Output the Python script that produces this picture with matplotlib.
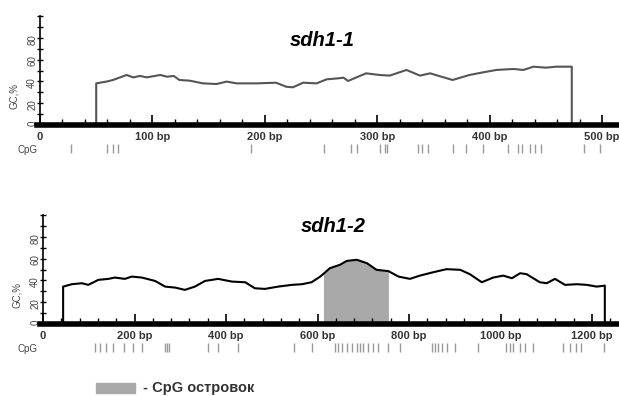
import numpy as np
import matplotlib.pyplot as plt
from matplotlib.ticker import MultipleLocator

plt.rcParams['font.family'] = ['Liberation Sans', 'DejaVu Sans']

# sdh1-1: GC profile (position, bp / GC, %)
bp1 = [50, 50, 59, 65, 77, 83, 89, 95, 107, 113, 119, 124, 133, 145, 157, 166, 175,
       193, 210, 219, 225, 234, 246, 255, 265, 270, 274, 290, 302, 311, 326, 338, 347,
       367, 382, 394, 406, 421, 430, 439, 450, 459, 473, 473]
gc1 = [0, 38.2, 39.8, 41.3, 45.9, 43.7, 45, 43.7, 45.9, 44.3, 45, 41.3, 40.7, 38.2, 37.6,
       39.8, 38.2, 38.2, 38.8, 35.1, 34.6, 38.8, 38.2, 41.9, 42.8, 43.4, 40.4, 47.4, 45.9,
       45.3, 50.5, 45.3, 47.4, 41.3, 45.9, 48.3, 50.5, 51.4, 50.5, 53.5, 52.6, 53.5, 53.5, 0]
cpg1 = [28, 60, 65, 69, 188, 253, 277, 282, 302, 307, 309, 336, 340, 345, 367, 379, 394,
        416, 425, 429, 436, 440, 446, 484, 498]

# sdh1-2
bp2 = [44, 44, 63, 85, 99, 121, 143, 157, 179, 194, 216, 245, 267, 289, 310, 332, 354,
       383, 413, 442, 463, 485, 514, 544, 566, 587, 606, 613, 627, 649, 664, 686, 708, 729,
       755, 777, 802, 824, 853, 882, 912, 933, 959, 984, 1006, 1025, 1043, 1057, 1086,
       1101, 1119, 1141, 1167, 1189, 1210, 1228, 1228]
gc2 = [0, 34.3, 36.5, 37.4, 35.9, 40.5, 41.4, 42.6, 41.4, 43.5, 42.6, 39.5, 34.3, 33.4,
       31.3, 34.3, 39.5, 41.4, 38.9, 38.3, 32.8, 32.2, 34.3, 35.9, 36.5, 38.3, 43.5, 46,
       51.2, 54.3, 57.9, 58.9, 55.8, 49.7, 48.5, 43.5, 41.4, 44.4, 47.5, 50.3, 49.7, 45.7,
       38.3, 42.6, 44.4, 42, 46.6, 45.7, 38.3, 37.4, 41.4, 35.9, 36.5, 35.9, 34.3, 35.2, 0]
cpg2 = [114, 125, 138, 154, 176, 196, 216, 267, 272, 276, 361, 383, 427, 549, 587,
        638, 645, 653, 664, 675, 686, 693, 700, 711, 722, 733, 755, 780, 850, 857, 864,
        872, 883, 901, 951, 1013, 1021, 1028, 1043, 1054, 1072, 1137, 1152, 1166, 1177, 1227]
island = (613, 755)

W, H = 619, 396
fig = plt.figure(figsize=(W / 100, H / 100), dpi=100)


def panel(rect, bp, gc, cpg, xmax, major, minor, title, title_xy, line_color):
    x0, y0, x1, y1 = rect  # pixel box: left, top(100%), right, baseline
    ax = fig.add_axes([x0 / W, 1 - y1 / H, (x1 - x0) / W, (y1 - y0) / H])
    ax.set_xlim(0, xmax)
    ax.set_ylim(0, 100)
    ax.plot(bp, gc, color=line_color, lw=1.5)
    for s in ['top', 'right', 'bottom']:
        ax.spines[s].set_visible(False)
    ax.spines['left'].set_linewidth(1.2)
    ax.axhline(0, color='black', lw=4, clip_on=False, xmin=-0.005)
    ax.xaxis.set_minor_locator(MultipleLocator(minor))
    ticks = np.arange(0, xmax, major)
    ax.set_xticks(ticks)
    ax.set_xticklabels(['0' if t == 0 else f'{t} bp' for t in ticks],
                       fontsize=8, fontweight='bold', color='#333333')
    ax.tick_params(axis='x', direction='in', length=7, width=1.2, pad=5)
    ax.tick_params(axis='x', which='minor', direction='in', length=4, width=1)
    ax.yaxis.set_minor_locator(MultipleLocator(10))
    ax.set_yticks([0, 20, 40, 60, 80])
    ax.tick_params(axis='y', which='both', direction='inout', length=4, width=1,
                   labelrotation=90, labelsize=7, labelcolor='#444444', pad=0)
    ax.set_ylabel('GC,%', fontsize=7, color='#444444')
    ax.yaxis.set_label_coords(-0.036, 0.27)
    ax.vlines(cpg, -26, -17, color='#999999', lw=1, clip_on=False)
    fig.text(18 / W, 1 - (y1 + 25) / H, 'CpG', fontsize=7, color='#444444', va='center')
    fig.text(title_xy[0] / W, 1 - title_xy[1] / H, title, fontsize=14.5,
             fontweight='bold', style='italic', ha='center', va='center')
    return ax


panel((40, 16, 619, 125), bp1, gc1, cpg1, 515, 100, 20, 'sdh1-1', (322, 41), '#555555')
ax2 = panel((43, 215, 619, 324), bp2, gc2, cpg2, 1259, 200, 40, 'sdh1-2', (333, 226), 'black')

xs = np.array(bp2)
ax2.fill_between(xs, np.array(gc2), 0, where=(xs >= island[0]) & (xs <= island[1]),
                 color='#a9a9a9', lw=0)

# legend
fig.patches.append(plt.Rectangle((96 / W, 1 - 393 / H), 39 / W, 10 / H,
                                 transform=fig.transFigure, color='#a9a9a9'))
fig.text(143 / W, 1 - 388 / H, '- CpG островок', fontsize=10.5, fontweight='bold',
         color='#333333', va='center')

fig.savefig('out.png', dpi=100)
